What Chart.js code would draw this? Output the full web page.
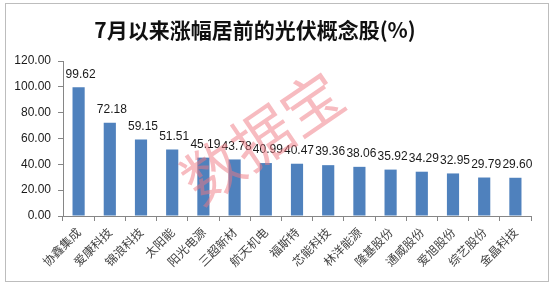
<!DOCTYPE html>
<html>
<head>
<meta charset="utf-8">
<script src="https://cdn.jsdelivr.net/npm/chart.js@4/dist/chart.umd.min.js"></script>
<style>
  html, body { margin: 0; padding: 0; background: #fff; }
  #wrap { width: 560px; height: 287px; }
</style>
</head>
<body>
<div id="wrap"><canvas id="grafico" width="560" height="287"></canvas></div>
<script>
// dados
const titulo = '7月以来涨幅居前的光伏概念股(%)';
const acoes = ['协鑫集成', '爱康科技', '锦浪科技', '太阳能', '阳光电源', '三超新材', '航天机电', '福斯特',
               '芯能科技', '林洋能源', '隆基股份', '通威股份', '爱旭股份', '综艺股份', '金晶科技'];
const altas = [99.62, 72.18, 59.15, 51.51, 45.19, 43.78, 40.99, 40.47, 39.36, 38.06, 35.92, 34.29, 32.95, 29.79, 29.60];
const marcaDagua = '数据宝';

const corEixo = '#868686';

// moldura, título e marca d'água
const extras = {
    id: 'extras',
    beforeDraw(chart) {
        const c = chart.ctx;
        c.save();
        c.strokeStyle = '#bdbdbd';
        c.lineWidth = 1;
        c.strokeRect(5.5, 3.5, 543, 278);
        c.fillStyle = '#111';
        c.font = 'bold 21px "Noto Sans CJK SC"';
        c.textAlign = 'center';
        c.textBaseline = 'middle';
        c.fillText(titulo, 255, 30);
        c.restore();
    },
    afterDatasetsDraw(chart) {
        const c = chart.ctx;
        const meta = chart.getDatasetMeta(0);
        c.save();
        c.fillStyle = '#1a1a1a';
        c.font = '12px "Liberation Sans"';
        c.textAlign = 'center';
        c.textBaseline = 'bottom';
        meta.data.forEach((bar, i) => {
            c.fillText(altas[i].toFixed(2), bar.x + 2, bar.y - 7);
        });
        // marca d'água por cima das barras
        c.translate(262, 137);
        c.rotate(-0.6);
        c.fillStyle = 'rgba(240, 120, 130, 0.5)';
        c.font = '60px "Noto Sans CJK SC"';
        c.textAlign = 'center';
        c.textBaseline = 'middle';
        c.fillText(marcaDagua, 0, 0);
        c.restore();
    }
};

new Chart(document.getElementById('grafico').getContext('2d'), {
    type: 'bar',
    data: {
        labels: acoes,
        datasets: [{
            data: altas,
            backgroundColor: '#4f81bd',
            barPercentage: 0.39,
            categoryPercentage: 1
        }]
    },
    options: {
        responsive: false,
        animation: false,
        layout: { padding: { top: 61, left: 5, right: 29, bottom: 6 } },
        plugins: {
            legend: { display: false },
            tooltip: { enabled: false }
        },
        scales: {
            y: {
                min: 0,
                max: 120,
                afterFit: (s) => { s.width = 58; },
                ticks: {
                    stepSize: 20,
                    color: '#1a1a1a',
                    font: { family: 'Liberation Sans', size: 12 },
                    padding: 7,
                    callback: (v) => v.toFixed(2)
                },
                grid: { drawOnChartArea: false, drawTicks: true, tickLength: 5, color: corEixo },
                border: { display: true, color: corEixo }
            },
            x: {
                afterFit: (s) => { s.height = 65; },
                ticks: {
                    minRotation: 45,
                    maxRotation: 45,
                    autoSkip: false,
                    color: '#444',
                    font: { family: 'Noto Sans CJK SC', size: 12 },
                    padding: 4
                },
                grid: { drawOnChartArea: false, drawTicks: true, tickLength: 5, color: corEixo, offset: true },
                border: { display: true, color: corEixo }
            }
        }
    },
    plugins: [extras]
});
</script>
</body>
</html>
